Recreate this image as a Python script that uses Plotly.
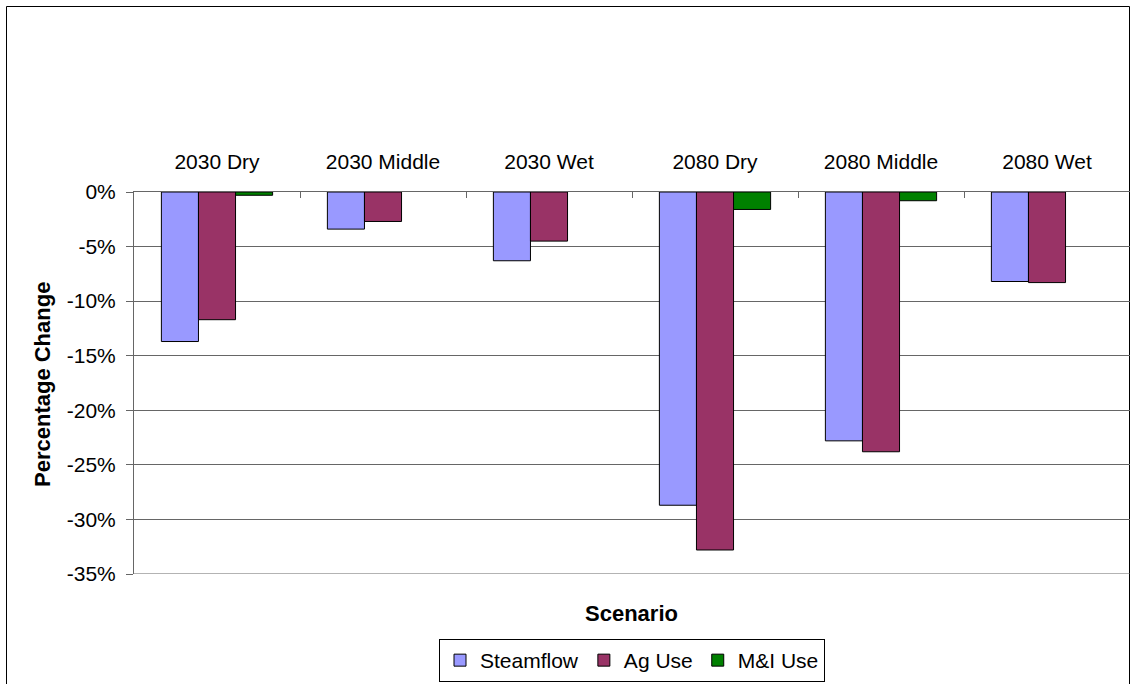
import plotly.graph_objects as go

categories = ["2030 Dry", "2030 Middle", "2030 Wet", "2080 Dry", "2080 Middle", "2080 Wet"]
steamflow = [-13.7, -3.4, -6.3, -28.7, -22.8, -8.2]
ag_use = [-11.7, -2.7, -4.5, -32.8, -23.8, -8.3]
mi_use = [-0.3, None, None, -1.6, -0.8, None]
series_names = ["Steamflow", "Ag Use", "M&I Use"]
series_colors = ["#9999FF", "#993366", "#008000"]
y_tickvals = [0, -5, -10, -15, -20, -25, -30, -35]
y_ticktext = ["0%", "-5%", "-10%", "-15%", "-20%", "-25%", "-30%", "-35%"]

FONT = "Liberation Sans, Arial, sans-serif"

fig = go.Figure()
for name, vals, col in zip(series_names, [steamflow, ag_use, mi_use], series_colors):
    fig.add_trace(go.Bar(
        x=categories, y=vals, name=name,
        marker=dict(color=col, line=dict(color="#000000", width=1)),
    ))

W, H = 1133, 684
L, R, T, B = 134, 3, 192, 110
pw = W - L - R
ph = H - T - B

def px2paper_x(px):
    return (px - L) / pw

def px2paper_y(py):
    return (H - B - py) / ph

fig.update_layout(
    template="none",
    width=W, height=H,
    margin=dict(l=L, r=R, t=T, b=B, pad=0, autoexpand=False),
    paper_bgcolor="white", plot_bgcolor="white",
    barmode="group", bargap=0.33, bargroupgap=0,
    font=dict(family=FONT, size=21, color="black"),
    showlegend=True,
    legend=dict(
        orientation="h", x=0.5, xanchor="center",
        y=px2paper_y(682), yanchor="bottom",
        bordercolor="black", borderwidth=1,
        font=dict(size=21, family=FONT), itemwidth=30,
        traceorder="normal", bgcolor="white",
    ),
    xaxis=dict(
        side="top", showline=True, linecolor="#666666", linewidth=1,
        ticks="inside", ticklen=6, tickcolor="#666666", tickson="boundaries",
        showgrid=False, ticklabelstandoff=14, automargin=False,
        tickfont=dict(size=21, family=FONT),
        fixedrange=True,
    ),
    yaxis=dict(
        range=[-35, 0], tickvals=y_tickvals, ticktext=y_ticktext,
        showline=True, linecolor="#666666", linewidth=1,
        ticks="outside", ticklen=7, tickcolor="#666666",
        showgrid=True, gridcolor="#666666", gridwidth=1,
        zeroline=False, tickfont=dict(size=21, family=FONT),
        ticklabelstandoff=6, automargin=False,
        fixedrange=True,
    ),
    shapes=[
        dict(
            type="rect", xref="paper", yref="paper",
            x0=px2paper_x(6.5), x1=px2paper_x(1129.5),
            y0=px2paper_y(700), y1=px2paper_y(6.5),
            line=dict(color="black", width=1), fillcolor="rgba(0,0,0,0)", layer="below",
        ),
        dict(
            type="line", xref="paper", yref="y",
            x0=0, x1=1, y0=y_tickvals[-1], y1=y_tickvals[-1],
            line=dict(color="#666666", width=1), layer="below",
        ),
    ],
    annotations=[
        dict(text="<b>Scenario</b>", xref="paper", yref="paper",
             x=px2paper_x(631), y=px2paper_y(613), xanchor="center", yanchor="middle",
             showarrow=False, font=dict(size=22, family=FONT)),
        dict(text="<b>Percentage Change</b>", xref="paper", yref="paper",
             x=px2paper_x(42), y=px2paper_y(385), xanchor="center", yanchor="middle",
             textangle=-90, showarrow=False, font=dict(size=22, family=FONT)),
    ],
)

fig.write_html(
    "out.html",
    config={"displayModeBar": False},
    post_script="document.body.style.margin='0';document.body.style.overflow='hidden';",
)
